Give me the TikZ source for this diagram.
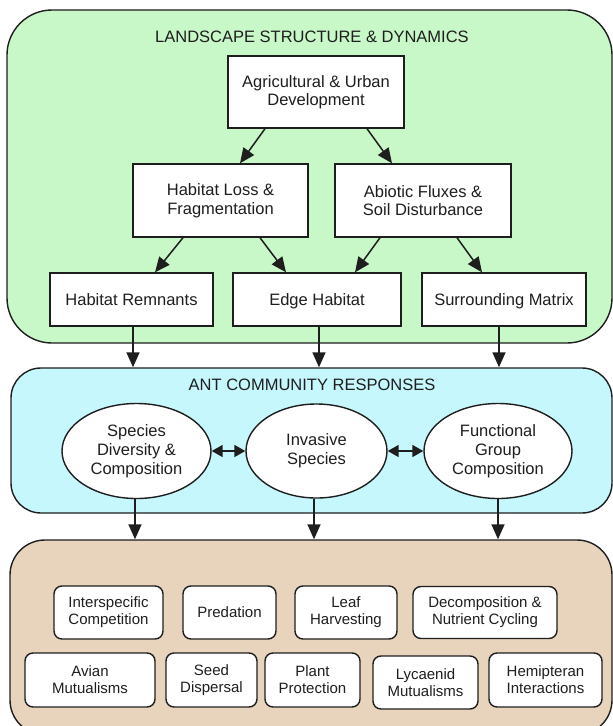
\documentclass[tikz,border=0pt]{standalone}
\usepackage{fontspec}
\setmainfont{Liberation Sans}
\usetikzlibrary{shapes.geometric,arrows.meta}
\definecolor{greenfill}{RGB}{200,248,200}
\definecolor{bluefill}{RGB}{198,247,253}
\definecolor{tanfill}{RGB}{232,212,188}
\definecolor{inkc}{RGB}{30,30,30}
\begin{document}
\begin{tikzpicture}[x=1pt,y=-1pt,
 panel/.style={draw=inkc, line width=1.4pt, inner sep=0pt},
 box/.style={draw=inkc, fill=white, line width=1.4pt, align=center, inner sep=0pt, text=inkc, font=\fontsize{16.5}{18.5}\selectfont},
 onerow/.style={text height=12pt, text depth=0pt},
 oval/.style={ellipse, draw=inkc, fill=white, line width=1.4pt, align=center, inner sep=0pt, text=inkc, font=\fontsize{16.5}{19}\selectfont},
 rbox/.style={draw=inkc, fill=white, line width=1.4pt, rounded corners=8pt, align=center, inner sep=0pt, text=inkc, font=\fontsize{15}{17}\selectfont},
 arr/.style={-{Triangle[length=15pt,width=13pt]}, line width=1.5pt, draw=inkc, fill=inkc},
 dblarr/.style={{Triangle[length=11pt,width=12pt]}-{Triangle[length=11pt,width=12pt]}, line width=1.5pt, draw=inkc, fill=inkc},
 paneltitle/.style={font=\fontsize{16.5}{19}\selectfont, text=inkc, inner sep=0pt}
]
\useasboundingbox (0,0) rectangle (613,726);
% panels
\node[panel, fill=greenfill, rounded corners=45pt, minimum width=605pt, minimum height=333pt] (land) at (309.5,176.5) {};
\node[panel, fill=bluefill, rounded corners=30pt, minimum width=601pt, minimum height=145pt] (ant) at (311.5,440.5) {};
\node[panel, fill=tanfill, rounded corners=35pt, minimum width=602pt, minimum height=195pt] (eco) at (311,637.5) {};
% titles
\node[paneltitle] (t1) at (312,37) {LANDSCAPE STRUCTURE \& DYNAMICS};
\node[paneltitle] (t2) at (312,385) {ANT COMMUNITY RESPONSES};
% landscape boxes
\node[box, minimum width=176pt, minimum height=72pt] (agri) at (316,92) {Agricultural \& Urban\\Development};
\node[box, minimum width=175pt, minimum height=73pt] (hl) at (220.5,200.5) {Habitat Loss \&\\Fragmentation};
\node[box, minimum width=176pt, minimum height=73pt] (ab) at (423,200.5) {Abiotic Fluxes \&\\Soil Disturbance};
\node[box, onerow, minimum width=163pt, minimum height=53pt] (rem) at (131.5,299.5) {Habitat Remnants};
\node[box, onerow, minimum width=168pt, minimum height=53pt] (edge) at (317,299.5) {Edge Habitat};
\node[box, onerow, minimum width=164pt, minimum height=53pt] (surr) at (504,299.5) {Surrounding Matrix};
% ellipses
\node[oval, minimum width=149pt, minimum height=95pt] (sdc) at (136.5,451) {Species\\Diversity \&\\Composition};
\node[oval, minimum width=141pt, minimum height=94pt] (inv) at (316.5,451) {Invasive\\Species};
\node[oval, minimum width=148pt, minimum height=95pt] (fgc) at (498,451) {Functional\\Group\\Composition};
% ecosystem boxes
\node[rbox, minimum width=109pt, minimum height=53pt] (isc) at (108.5,612.5) {Interspecific\\Competition};
\node[rbox, minimum width=93pt, minimum height=53pt] (pred) at (229.5,612.5) {Predation};
\node[rbox, minimum width=102pt, minimum height=53pt] (leaf) at (346,612.5) {Leaf\\Harvesting};
\node[rbox, minimum width=144pt, minimum height=52pt] (dec) at (485,612.5) {Decomposition \&\\Nutrient Cycling};
\node[rbox, minimum width=130pt, minimum height=54pt] (avi) at (90,680) {Avian\\Mutualisms};
\node[rbox, minimum width=91pt, minimum height=54pt] (seed) at (211.5,680) {Seed\\Dispersal};
\node[rbox, minimum width=95pt, minimum height=54pt] (plant) at (312.5,680) {Plant\\Protection};
\node[rbox, minimum width=105pt, minimum height=53pt] (lyc) at (425.5,682.5) {Lycaenid\\Mutualisms};
\node[rbox, minimum width=113pt, minimum height=54pt] (hem) at (545.5,680) {Hemipteran\\Interactions};
% landscape arrows
\draw[arr] ([xshift=-51pt]agri.south) -- ([xshift=19.5pt]hl.north);
\draw[arr] ([xshift=51pt]agri.south) -- ([xshift=-31pt]ab.north);
\draw[arr] ([xshift=-37.5pt]hl.south) -- ([xshift=23.5pt]rem.north);
\draw[arr] ([xshift=39.5pt]hl.south) -- ([xshift=-31pt]edge.north);
\draw[arr] ([xshift=-43pt]ab.south) -- ([xshift=38pt]edge.north);
\draw[arr] ([xshift=34pt]ab.south) -- ([xshift=-22pt]surr.north);
% to ant panel
\draw[arr] ([xshift=1.5pt]rem.south) -- ([xshift=1.5pt]rem.south |- ant.north);
\draw[arr] ([xshift=2pt]edge.south) -- ([xshift=2pt]edge.south |- ant.north);
\draw[arr] ([xshift=-5pt]surr.south) -- ([xshift=-5pt]surr.south |- ant.north);
% between ellipses
\draw[dblarr] (sdc.east) -- (inv.west);
\draw[dblarr] (inv.east) -- (fgc.west);
% to ecosystem panel
\draw[arr] ([xshift=-1.5pt]sdc.south) -- ([xshift=-1.5pt]sdc.south |- eco.north);
\draw[arr] ([xshift=-2.5pt]inv.south) -- ([xshift=-2.5pt]inv.south |- eco.north);
\draw[arr] (fgc.south) -- (fgc.south |- eco.north);
\end{tikzpicture}
\end{document}
